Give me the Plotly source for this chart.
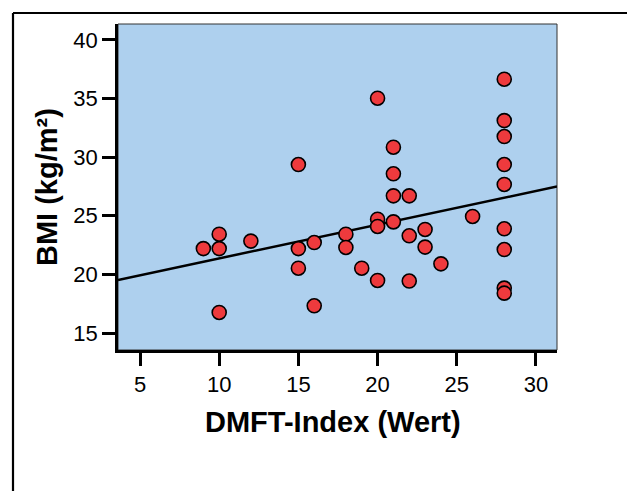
import numpy as np
import plotly.graph_objects as go

# DMFT-Index values and BMI values
dmft = [9, 10, 10, 10, 12, 15, 15, 15, 16, 16, 18, 18, 19,
        20, 20, 20, 20, 21, 21, 21, 21, 22, 22, 22, 23, 23, 24, 26,
        28, 28, 28, 28, 28, 28, 28, 28, 28]
bmi = [22.2, 23.43, 22.2, 16.75, 22.84, 29.37, 22.2, 20.53, 22.72, 17.32, 23.43, 22.3, 20.53,
       35.03, 24.71, 24.09, 19.48, 30.85, 28.58, 26.7, 24.48, 26.7, 23.29, 19.43, 23.83, 22.33, 20.9, 24.94,
       36.65, 33.12, 31.76, 29.37, 27.67, 23.89, 22.12, 18.83, 18.4]

x_ticks = [5, 10, 15, 20, 25, 30]
y_ticks = [15, 20, 25, 30, 35, 40]
x_range = [3.61, 31.33]
y_range = [13.55, 41.36]

slope, intercept = np.polyfit(dmft, bmi, 1)
fit_x = np.array(x_range)
fit_y = intercept + slope * fit_x

W, H = 627, 491
L, R, T, B = 118, 70, 24, 141
pw, ph = W - L - R, H - T - B

def px(xpix):
    return (xpix - L) / pw

def py(ypix):
    return (H - B - ypix) / ph

fig = go.Figure()
fig.add_trace(go.Scatter(x=fit_x, y=fit_y, mode="lines",
                         line=dict(color="black", width=2.5), showlegend=False,
                         hoverinfo="skip"))
fig.add_trace(go.Scatter(x=dmft, y=bmi, mode="markers",
                         marker=dict(size=14, color="#ee3a3d",
                                     line=dict(color="black", width=1.6)),
                         showlegend=False))

axis_common = dict(showgrid=False, zeroline=False, showline=True,
                   linecolor="black", linewidth=2.5, ticks="outside",
                   ticklen=13, tickwidth=2.5, tickcolor="black",
                   tickfont=dict(family="Liberation Sans, Arial", size=22, color="black"))

fig.update_xaxes(range=x_range, tickvals=x_ticks, **axis_common)
fig.update_yaxes(range=y_range, tickvals=y_ticks, **axis_common)

fig.update_layout(
    width=W, height=H,
    margin=dict(l=L, r=R, t=T, b=B),
    paper_bgcolor="white",
    plot_bgcolor="#aed0ee",
    font=dict(family="Liberation Sans, Arial", size=22, color="black"),
    shapes=[
        dict(type="rect", xref="paper", yref="paper", x0=0, x1=1, y0=0, y1=1,
             line=dict(color="#333333", width=1), layer="below"),
        dict(type="line", xref="paper", yref="paper", x0=px(13), x1=px(640),
             y0=py(13), y1=py(13), line=dict(color="black", width=2.2)),
        dict(type="line", xref="paper", yref="paper", x0=px(13), x1=px(13),
             y0=py(13), y1=py(500), line=dict(color="black", width=2.2)),
    ],
    annotations=[
        dict(text="<b>DMFT-Index (Wert)</b>", xref="paper", yref="paper",
             x=px(333), y=py(422), xanchor="center", yanchor="middle",
             showarrow=False,
             font=dict(family="Liberation Sans, Arial", size=29, color="black")),
        dict(text="<b>BMI (kg/m²)</b>", xref="paper", yref="paper",
             x=px(47), y=py(187), xanchor="center", yanchor="middle",
             textangle=-90, showarrow=False,
             font=dict(family="Liberation Sans, Arial", size=29, color="black")),
    ],
)

fig.write_html("out.html")
